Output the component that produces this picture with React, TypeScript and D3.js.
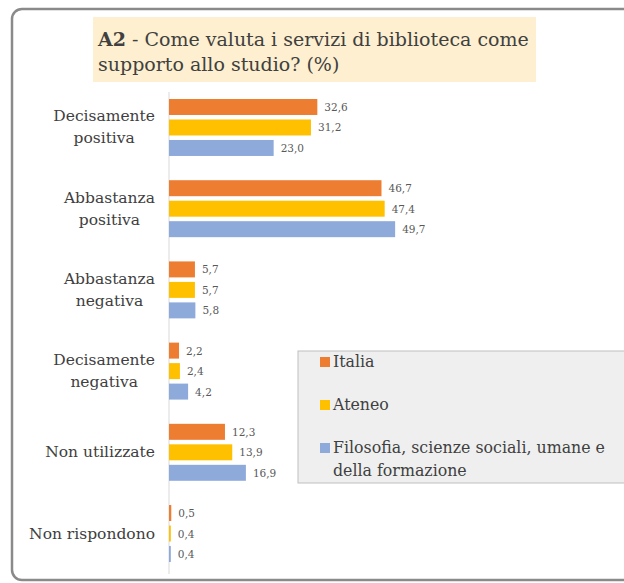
import * as d3 from "d3";
import { useEffect, useRef } from "react";

const categories = [
  "Decisamente\npositiva",
  "Abbastanza\npositiva",
  "Abbastanza\nnegativa",
  "Decisamente\nnegativa",
  "Non utilizzate",
  "Non rispondono",
];
const seriesNames = ["Italia", "Ateneo", "Filosofia, scienze sociali, umane e\ndella formazione"];
const italia = [32.6, 46.7, 5.7, 2.2, 12.3, 0.5];
const ateneo = [31.2, 47.4, 5.7, 2.4, 13.9, 0.4];
const filosofia = [23.0, 49.7, 5.8, 4.2, 16.9, 0.4];
const colors = ["#ED7D31", "#FFC000", "#8EAADB"];
const titleBold = "A2";
const titleLine1 = " - Come valuta i servizi di biblioteca come";
const titleLine2 = "supporto allo studio? (%)";

const FONT = "'DejaVu Serif', 'Liberation Serif', serif";

export default function App() {
  const ref = useRef<SVGSVGElement | null>(null);

  useEffect(() => {
    if (!ref.current) return;
    const svg = d3.select(ref.current);
    svg.selectAll("*").remove();

    const series = [italia, ateneo, filosofia];

    // outer frame
    svg.append("rect")
      .attr("x", 12).attr("y", 9)
      .attr("width", 700).attr("height", 571)
      .attr("rx", 10)
      .attr("fill", "#fff")
      .attr("stroke", "#8a8a8a")
      .attr("stroke-width", 2.5);

    // title
    svg.append("rect")
      .attr("x", 93).attr("y", 17)
      .attr("width", 443).attr("height", 65)
      .attr("fill", "#FDEFCF");
    const t1 = svg.append("text")
      .attr("x", 98).attr("y", 46)
      .attr("font-family", FONT).attr("font-size", 19)
      .attr("fill", "#404040");
    t1.append("tspan").attr("font-weight", "bold").text(titleBold);
    t1.append("tspan").text(titleLine1);
    svg.append("text")
      .attr("x", 98).attr("y", 71)
      .attr("font-family", FONT).attr("font-size", 19)
      .attr("fill", "#404040")
      .text(titleLine2);

    const x = d3.scaleLinear().domain([0, 60]).range([169, 442]);
    const y = d3.scaleBand<string>()
      .domain(categories)
      .range([87, 574])
      .paddingInner(0.243)
      .paddingOuter(0.12);
    const ySub = d3.scaleBand<number>()
      .domain([0, 1, 2])
      .range([0, y.bandwidth()])
      .paddingInner(0.22)
      .paddingOuter(0.11);

    // axis line
    svg.append("line")
      .attr("x1", x(0)).attr("x2", x(0))
      .attr("y1", 92).attr("y2", 574)
      .attr("stroke", "#d9d9d9");

    // bars and value labels
    categories.forEach((c, i) => {
      series.forEach((s, j) => {
        const by = (y(c) ?? 0) + (ySub(j) ?? 0);
        svg.append("rect")
          .attr("x", x(0))
          .attr("y", by)
          .attr("width", Math.max(1.5, x(s[i]) - x(0)))
          .attr("height", ySub.bandwidth())
          .attr("fill", colors[j]);
        svg.append("text")
          .attr("x", x(Math.max(s[i], 0.3)) + 7)
          .attr("y", by + ySub.bandwidth() / 2 + 4)
          .attr("font-family", FONT).attr("font-size", 10.5)
          .attr("fill", "#595959")
          .text(d3.format(".1f")(s[i]).replace(".", ","));
      });

      // category label
      const lines = c.split("\n");
      const cy = (y(c) ?? 0) + y.bandwidth() / 2;
      const g = svg.append("g");
      const texts = lines.map((l) =>
        g.append("text")
          .attr("font-family", FONT).attr("font-size", 15.5)
          .attr("fill", "#404040")
          .attr("text-anchor", "middle")
          .text(l)
      );
      const maxW = d3.max(texts, (t) => (t.node() as SVGTextElement).getComputedTextLength()) ?? 0;
      const lh = 22;
      texts.forEach((t, k) => {
        t.attr("x", 155 - maxW / 2)
          .attr("y", cy + 5 + (k - (lines.length - 1) / 2) * lh);
      });
    });

    // legend
    svg.append("rect")
      .attr("x", 298).attr("y", 351)
      .attr("width", 340).attr("height", 132)
      .attr("fill", "#EFEFEF")
      .attr("stroke", "#BFBFBF");
    const legendY = [367, 410, 453];
    seriesNames.forEach((name, j) => {
      svg.append("rect")
        .attr("x", 320).attr("y", legendY[j] - 10)
        .attr("width", 10).attr("height", 10)
        .attr("fill", colors[j]);
      name.split("\n").forEach((l, k) => {
        svg.append("text")
          .attr("x", 333).attr("y", legendY[j] + k * 23)
          .attr("font-family", FONT).attr("font-size", 15.8)
          .attr("fill", "#404040")
          .text(l);
      });
    });
  }, []);

  return (
    <svg
      ref={ref}
      width={624}
      height={583}
      style={{ position: "absolute", left: 0, top: 0, background: "#fff" }}
    />
  );
}
